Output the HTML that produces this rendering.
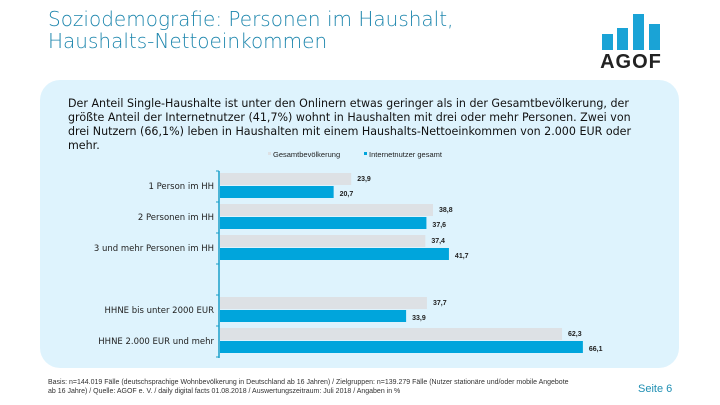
<!DOCTYPE html>
<html><head><meta charset="utf-8"><style>
body{margin:0;width:720px;height:405px;background:#fff;font-family:"Liberation Sans",sans-serif;position:relative;overflow:hidden}
.abs{position:absolute}
</style></head><body>
<div class="abs" style="left:48px;top:8px;color:#1d86ad;font-size:20px;line-height:22px;font-family:'DejaVu Sans',sans-serif;font-weight:300">Soziodemografie: Personen im Haushalt,<br>Haushalts-Nettoeinkommen</div>
<svg class="abs" style="left:600px;top:10px" width="90" height="60">
<rect x="2" y="24" width="11" height="16" fill="#1aa3d6"/><rect x="17" y="18" width="11" height="22" fill="#1aa3d6"/><rect x="33" y="4" width="11" height="36" fill="#1aa3d6"/><rect x="49" y="14" width="11" height="26" fill="#1aa3d6"/>
<text x="31" y="58" text-anchor="middle" font-family="Liberation Sans" font-weight="bold" font-size="20" fill="#222" letter-spacing="1">AGOF</text></svg>
<div class="abs" style="left:40px;top:80px;width:639px;height:288px;background:#def3fd;border-radius:20px"></div>
<div class="abs" style="left:68px;top:97px;width:572px;font-size:11.1px;line-height:14px;color:#111;font-family:'DejaVu Sans',sans-serif">Der Anteil Single-Haushalte ist unter den Onlinern etwas geringer als in der Gesamtbevölkerung, der größte Anteil der Internetnutzer (41,7%) wohnt in Haushalten mit drei oder mehr Personen. Zwei von drei Nutzern (66,1%) leben in Haushalten mit einem Haushalts-Nettoeinkommen von 2.000 EUR oder mehr.</div>
<svg class="abs" id="chart" style="left:0;top:0" width="720" height="405"></svg>
<div class="abs" style="left:48px;top:378px;font-size:7px;line-height:9px;color:#333;width:528px">Basis: n=144.019 Fälle (deutschsprachige Wohnbevölkerung in Deutschland ab 16 Jahren) / Zielgruppen: n=139.279 Fälle (Nutzer stationäre und/oder mobile Angebote ab 16 Jahre) / Quelle: AGOF e. V. / daily digital facts 01.08.2018 / Auswertungszeitraum: Juli 2018 / Angaben in %</div>
<div class="abs" style="left:638px;top:383px;font-size:11px;color:#1f8fb3">Seite 6</div>
<script>
const categories=["1 Person im HH","2 Personen im HH","3 und mehr Personen im HH","","HHNE bis unter 2000 EUR","HHNE 2.000 EUR und mehr"];
const gesamt=[23.9,38.8,37.4,null,37.7,62.3];
const internet=[20.7,37.6,41.7,null,33.9,66.1];
const seriesNames=["Gesamtbevölkerung","Internetnutzer gesamt"];
const NS="http://www.w3.org/2000/svg",svg=document.getElementById('chart');
const x0=220,k=5.49,top0=173,pitch=31,bh=12;
const xs=v=>x0+v*k;
function mk(t,a,txt){const e=document.createElementNS(NS,t);for(const n in a)e.setAttribute(n,a[n]);if(txt!=null)e.textContent=txt;svg.appendChild(e);return e;}
const fmt=v=>v.toFixed(1).replace('.',',');
categories.forEach((c,i)=>{
  const y=top0+i*pitch;
  if(c){const l=mk('text',{x:214,y:y+bh+4,'text-anchor':'end','font-size':8.5,fill:'#222','font-family':'DejaVu Sans'},c);
  
  }
  if(gesamt[i]!=null){
    const r=mk('rect',{x:x0,y:y,width:xs(gesamt[i])-x0,height:bh,fill:'#dde1e5'});
    
    
    const t=mk('text',{x:xs(gesamt[i])+6,y:y+8,'font-size':7,fill:'#222','font-weight':'bold'},fmt(gesamt[i]));
    
    
  }
  if(internet[i]!=null){
    const r=mk('rect',{x:x0,y:y+bh+1,width:xs(internet[i])-x0,height:bh,fill:'#00a5dc'});
    
    
    const t=mk('text',{x:xs(internet[i])+6,y:y+bh+11,'font-size':7,fill:'#222','font-weight':'bold'},fmt(internet[i]));
    
    
  }
});
const ax=mk('line',{x1:x0-1,x2:x0-1,y1:top0-2,y2:top0+categories.length*pitch-1,stroke:'#1a9fc9','stroke-width':1.5});


for(let i=0;i<=categories.length;i++){const t=mk('line',{x1:x0-4,x2:x0-1,y1:top0-2+i*pitch,y2:top0-2+i*pitch,stroke:'#1a9fc9'});

}
const lx=[268,364],lc=['#dde1e5','#00a5dc'];
seriesNames.forEach((n,i)=>{
  const r=mk('rect',{x:lx[i],y:152,width:3,height:3,fill:lc[i]});
  
  
  const t=mk('text',{x:lx[i]+5,y:157,'font-size':7.5,fill:'#222'},n);
  
  
});
</script>
</body></html>
